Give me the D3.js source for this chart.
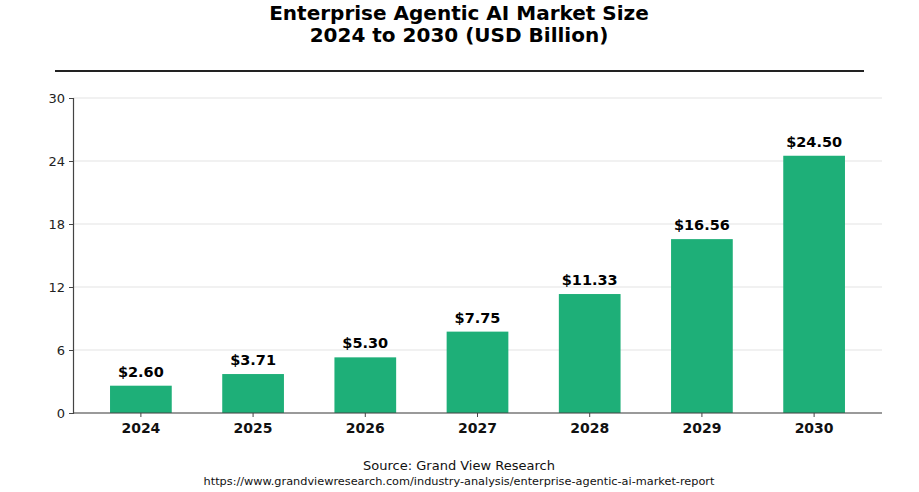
<!DOCTYPE html>
<html>
<head>
<meta charset="utf-8">
<script src="https://cdn.jsdelivr.net/npm/d3@7"></script>
<style>
  body { margin: 0; background: #fff; }
  svg { font-family: "DejaVu Sans", sans-serif; display: block; }
</style>
</head>
<body>
<svg id="chart" width="919" height="492"></svg>
<script>
// data
var years = ["2024", "2025", "2026", "2027", "2028", "2029", "2030"];
var values = [2.60, 3.71, 5.30, 7.75, 11.33, 16.56, 24.50];
var yTicks = [0, 6, 12, 18, 24, 30];

var svg = d3.select("#chart");

var margin = {top: 98, right: 37, bottom: 79, left: 73},
    width = 919 - margin.left - margin.right,
    height = 492 - margin.top - margin.bottom;

// title
svg.append("text")
  .attr("x", 459).attr("y", 20)
  .attr("text-anchor", "middle")
  .style("font-size", "20px").style("font-weight", "bold")
  .text("Enterprise Agentic AI Market Size");
svg.append("text")
  .attr("x", 459).attr("y", 42)
  .attr("text-anchor", "middle")
  .style("font-size", "20px").style("font-weight", "bold")
  .text("2024 to 2030 (USD Billion)");

// rule under title
svg.append("line")
  .attr("x1", 55).attr("x2", 864)
  .attr("y1", 71).attr("y2", 71)
  .attr("stroke", "#222").attr("stroke-width", 2);

var g = svg.append("g")
  .attr("transform", "translate(" + margin.left + "," + margin.top + ")");

var x = d3.scaleBand()
  .domain(years)
  .range([0, width])
  .paddingInner(0.45)
  .paddingOuter(0.33);

var y = d3.scaleLinear()
  .domain([0, 30])
  .range([height, 0]);

// grid
g.selectAll(".grid")
  .data(yTicks)
  .enter().append("line")
  .attr("x1", 0).attr("x2", width)
  .attr("y1", function(d) { return y(d); })
  .attr("y2", function(d) { return y(d); })
  .attr("stroke", "#e3e3e3").attr("stroke-width", 1);

// bars
g.selectAll(".bar")
  .data(values)
  .enter().append("rect")
  .attr("x", function(d, i) { return x(years[i]); })
  .attr("y", function(d) { return y(d); })
  .attr("width", x.bandwidth())
  .attr("height", function(d) { return height - y(d); })
  .attr("fill", "#1eaf78");

// value labels
g.selectAll(".val")
  .data(values)
  .enter().append("text")
  .attr("x", function(d, i) { return x(years[i]) + x.bandwidth() / 2; })
  .attr("y", function(d) { return y(d) - 9; })
  .attr("text-anchor", "middle")
  .style("font-size", "14.5px").style("font-weight", "bold")
  .text(function(d) { return "$" + d.toFixed(2); });

// axes
var yAxis = g.append("g")
  .call(d3.axisLeft(y).tickValues(yTicks).tickSize(4).tickPadding(4));
yAxis.select(".domain").attr("stroke", "#444").attr("stroke-width", 1.2);
yAxis.selectAll(".tick line").attr("stroke", "#444");
yAxis.selectAll(".tick text")
  .style("font-size", "13px").style("font-family", "DejaVu Sans").attr("fill", "#222");

var xAxis = g.append("g")
  .attr("transform", "translate(0," + height + ")")
  .call(d3.axisBottom(x).tickSize(4).tickPadding(6).tickSizeOuter(0));
xAxis.select(".domain").attr("stroke", "#444").attr("stroke-width", 1.2)
  .attr("d", "M0,0H" + width);
xAxis.selectAll(".tick line").attr("stroke", "#444");
xAxis.selectAll(".tick text")
  .style("font-size", "14px").style("font-weight", "bold")
  .style("font-family", "DejaVu Sans").attr("fill", "#111");

// source
svg.append("text")
  .attr("x", 459).attr("y", 470)
  .attr("text-anchor", "middle")
  .style("font-size", "13px").attr("fill", "#111")
  .text("Source: Grand View Research");
svg.append("text")
  .attr("x", 459).attr("y", 485)
  .attr("text-anchor", "middle")
  .style("font-size", "11.3px").attr("fill", "#111")
  .text("https://www.grandviewresearch.com/industry-analysis/enterprise-agentic-ai-market-report");
</script>
</body>
</html>
